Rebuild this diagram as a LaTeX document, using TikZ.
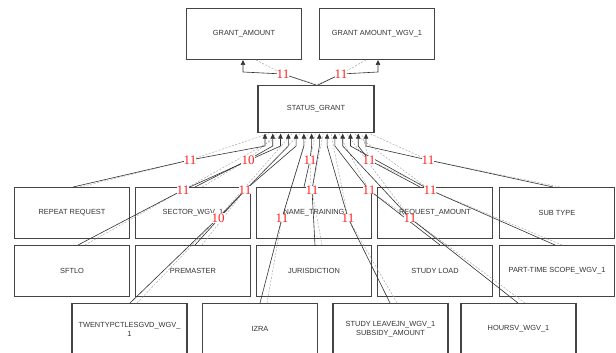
\documentclass[tikz,border=0pt]{standalone}
\usepackage{fontspec}
\setmainfont{Liberation Sans}
\newfontfamily\labfont{Liberation Serif}
\usetikzlibrary{arrows.meta}
\definecolor{boxc}{HTML}{444444}
\definecolor{txtc}{HTML}{333333}
\definecolor{edgec}{HTML}{333333}
\definecolor{dashc}{HTML}{AAAAAA}
\definecolor{labc}{HTML}{FF2020}
\begin{document}
\begin{tikzpicture}[x=1pt,y=-1pt,
  box/.style={draw=boxc, line width=1.3pt, minimum width=115pt, minimum height=51pt, inner sep=0pt, text=txtc, font=\fontsize{7.4}{9}\selectfont, align=center},
  edge/.style={draw=edgec, line width=0.6pt},
  tipedge/.style={edge, -{Triangle[length=5pt,width=4.5pt]}},
  dashedge/.style={draw=dashc, line width=0.5pt, dashed, dash pattern=on 2pt off 1.5pt},
  lab/.style={fill=white, inner sep=0.2pt, text=labc, font=\labfont\fontsize{13}{13}\selectfont}]
\clip (0,0) rectangle (616,353);
\useasboundingbox (0,0) rectangle (616,353);
% boxes
\node[box] (ga) at (244,34) {GRANT\_AMOUNT};
\node[box] (gw) at (377,34) {GRANT AMOUNT\_WGV\_1};
\node[box, minimum height=47pt, minimum width=116pt] (sg) at (316,109) {STATUS\_GRANT};
\node[box] (rr) at (72,213) {REPEAT REQUEST};
\node[box] (sw) at (193,213) {SECTOR\_WGV\_1};
\node[box] (nt) at (314,213) {NAME\_TRAINING};
\node[box] (ra) at (435,213) {REQUEST\_AMOUNT};
\node[box] (st) at (557,213) {SUB TYPE};
\node[box] (sf) at (72,271) {SFTLO};
\node[box] (pm) at (193,271) {PREMASTER};
\node[box] (ju) at (314,271) {JURISDICTION};
\node[box] (sl) at (435,271) {STUDY LOAD};
\node[box] (pt) at (557,271) {PART-TIME SCOPE\_WGV\_1};
\node[box] (tw) at (129.5,329) {TWENTYPCTLESGVD\_WGV\_\\1};
\node[box] (iz) at (260,329) {IZRA};
\node[box] (sv) at (390.5,329) {STUDY LEAVEJN\_WGV\_1\\SUBSIDY\_AMOUNT};
\node[box] (hv) at (518.5,329) {HOURSV\_WGV\_1};
% top connectors
\coordinate (sgt1) at (316,85);
\coordinate (sgt2) at (318,85);
\coordinate (lt1) at (283,74);
\coordinate (lt2) at (341,74);
\coordinate (bt1) at (243,72);
\coordinate (bt2) at (378,72);
\coordinate (at1) at (243,60);
\coordinate (at2) at (378,60);
\coordinate (dt1) at (256,60);
\coordinate (dt2) at (366,60);
\draw[dashedge] (dt1) -- (lt1) -- (sgt2);
\draw[dashedge] (dt2) -- (lt2) -- (sgt1);
\draw[tipedge] (sgt1) -- (lt1) -- (bt1) -- (at1);
\draw[tipedge] (sgt2) -- (lt2) -- (bt2) -- (at2);
% bottom connectors: index / source x,y / label x,y
\foreach \i/\sx/\sy/\lx/\ly in {
  0/73/187/190/160,
  1/195/187/248/160,
  2/78/245/183/190,
  3/130/303/218/218,
  4/195/245/245/190,
  5/260/303/282/218,
  6/304/187/310/160,
  7/315/245/312/190,
  8/390/303/348/218,
  9/440/245/369/190,
  10/518/303/410/218,
  11/555/245/430/190,
  12/420/187/369/160,
  13/553/187/428/160}{
  \pgfmathsetmacro\ax{265+7.77*\i}
  \coordinate (S\i) at (\sx,\sy);
  \coordinate (SD\i) at (\sx+7,\sy);
  \coordinate (L\i) at (\lx,\ly);
  \coordinate (B\i) at (\ax,146);
  \coordinate (A\i) at (\ax,133.6);
  \coordinate (AD\i) at (\ax+3.8,133.6);
  \draw[dashedge] (SD\i) -- (L\i) -- (AD\i);
  \draw[tipedge] (S\i) -- (L\i) -- (B\i) -- (A\i);
}
% labels
\node[lab] (tl1) at (lt1) {11};
\node[lab] (tl2) at (lt2) {11};
\foreach \i/\t in {0/11,1/10,2/11,3/10,4/11,5/11,6/11,7/11,8/11,9/11,10/11,11/11,12/11,13/11}{
  \node[lab] (T\i) at (L\i) {\t};
}
\end{tikzpicture}
\end{document}
